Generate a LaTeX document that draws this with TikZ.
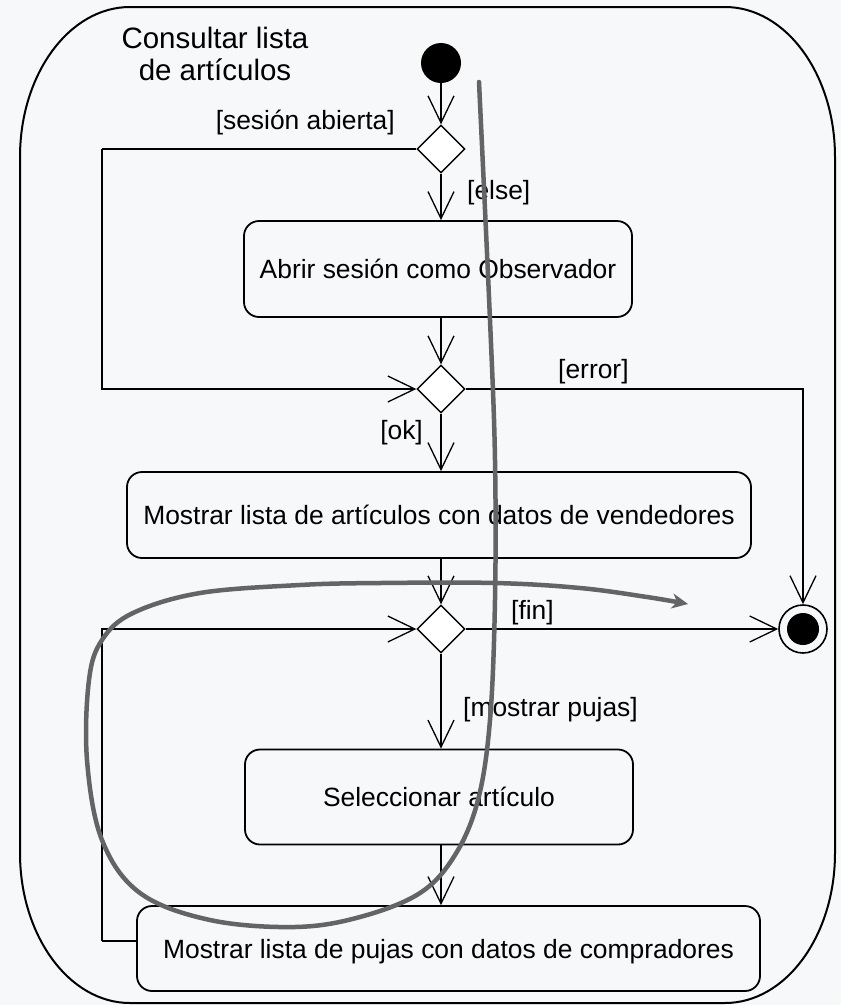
\documentclass[tikz,border=0pt]{standalone}
\usepackage{fontspec}
\setmainfont{Liberation Sans}
\usetikzlibrary{arrows.meta,shapes.geometric}
\definecolor{paper}{RGB}{247,248,250}
\definecolor{pen}{RGB}{100,100,100}
\begin{document}
\begin{tikzpicture}[x=1pt,y=-1pt,
  txt/.style={font=\fontsize{26.4}{30}\selectfont},
  act/.style={txt, draw, rounded corners=15pt, line width=1.8pt, inner sep=0pt,
              text height=19pt, text depth=0pt},
  dec/.style={diamond, draw, fill=white, line width=1.4pt, minimum width=48pt,
              minimum height=48pt, inner sep=0pt},
  flow/.style={line width=1.3pt, -{Straight Barb[length=27pt,width=26pt,line width=1.3pt]}},
  plain/.style={line width=1.3pt},
  guard/.style={txt, inner sep=0pt},
  scribble/.style={draw=pen, line width=4.5pt, line cap=round,
                   -{Stealth[length=16pt,width=15pt,inset=5pt]}}
]
% page
\fill[paper] (0,0) rectangle (841,1005);
\useasboundingbox (0,0) rectangle (841,1005);

% activity frame with elliptic corners
\draw[line width=2pt] (130,7) -- (725,7)
  .. controls (785.75,7) and (835,74.2) .. (835,157) -- (835,853)
  .. controls (835,935.8) and (785.75,1003) .. (725,1003) -- (130,1003)
  .. controls (69.25,1003) and (20,935.8) .. (20,853) -- (20,157)
  .. controls (20,74.2) and (69.25,7) .. (130,7) -- cycle;

% title
\node[font=\fontsize{29.5}{33}\selectfont, anchor=base] (title1) at (215,48) {Consultar lista};
\node[font=\fontsize{29.5}{33}\selectfont, anchor=base] (title2) at (215,80) {de artículos};

% nodes
\node[circle, fill=black, minimum size=40pt, inner sep=0pt] (init) at (441,63) {};
\node[dec] (d1) at (441,149) {};
\node[act, minimum width=388pt, minimum height=96pt] (b1) at (438,269) {Abrir sesión como Observador};
\node[dec] (d2) at (441,389) {};
\node[act, minimum width=624pt, minimum height=86pt] (b2) at (439,515) {Mostrar lista de artículos con datos de vendedores};
\node[dec] (d3) at (441,629) {};
\node[act, minimum width=388pt, minimum height=95pt] (b3) at (439,797) {Seleccionar artículo};
\node[act, minimum width=623pt, minimum height=85pt] (b4) at (448.5,948.5) {Mostrar lista de pujas con datos de compradores};
\node[circle, draw, line width=1.6pt, minimum size=48pt, inner sep=0pt] (fin) at (803,629) {};
\fill (fin.center) circle (16);

% corner points of the side routes
\coordinate (leftTop) at (102,149);
\coordinate (leftLoop) at (102,941);

% flows
\draw[flow] (init) -- (d1.north);
\draw[flow] (d1.south) -- (d1.south |- b1.north);
\draw[plain] (d1.west) -- (leftTop);
\draw[flow] (leftTop) |- (d2.west);
\draw[flow] (d2.north |- b1.south) -- (d2.north);
\draw[flow] (d2.south) -- (d2.south |- b2.north);
\draw[flow] (d2.east) -| (fin.north);
\draw[flow] (d3.north |- b2.south) -- (d3.north);
\draw[flow] (d3.east) -- (fin.west);
\draw[flow] (d3.south) -- (d3.south |- b3.north);
\draw[flow] (d3.south |- b3.south) -- (d3.south |- b4.north);
\draw[plain] (b4.west |- leftLoop) -- (leftLoop);
\draw[flow] (leftLoop) |- (d3.west);

% guards
\node[guard, anchor=east] (gSes) at (395,123) {[sesión abierta]};
\node[guard, anchor=west] (gElse) at (467,193) {[else]};
\node[guard, anchor=west] (gErr) at (558,372) {[error]};
\node[guard, anchor=east] (gOk) at (423,433) {[ok]};
\node[guard, anchor=west] (gFin) at (511,613) {[fin]};
\node[guard, anchor=west] (gMos) at (463,710) {[mostrar pujas]};

% hand-drawn stroke over the diagram
\draw[scribble] plot[smooth, tension=0.6] coordinates {
  (479,82) (490,320) (495,460) (495,600) (490,720) (478,800) (455,855)
  (420,893) (360,917) (295,927) (210,920) (140,893) (102,840) (87,760)
  (89,680) (102,640) (133,613) (200,593) (300,585) (380,583) (495,583)
  (580,588) (647,597) (688,604)};
\end{tikzpicture}
\end{document}
